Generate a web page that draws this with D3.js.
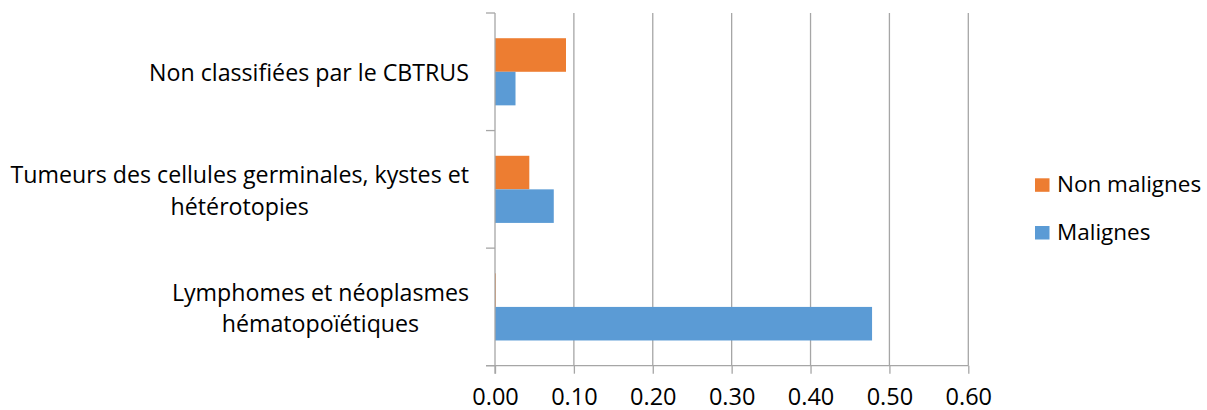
<!DOCTYPE html>
<html>
<head>
<meta charset="utf-8">
<script src="https://cdn.jsdelivr.net/npm/d3@7"></script>
<style>
  html, body { margin: 0; padding: 0; background: #ffffff; }
  svg { display: block; }
  text { font-family: "Open Sans", "Noto Sans", sans-serif; fill: #000; }
</style>
</head>
<body>
<svg id="chart" width="1207" height="410"></svg>
<script>
// ---- data ----
const categories = [
  ["Non classifiées par le CBTRUS"],
  ["Tumeurs des cellules germinales, kystes et", "hétérotopies"],
  ["Lymphomes et néoplasmes", "hématopoïétiques"]
];
const categoryKeys = ["Non classifiées", "Tumeurs", "Lymphomes"];
const seriesNames = ["Non malignes", "Malignes"];
const seriesColors = ["#ED7D31", "#5B9BD5"];
const nonMalignes = [0.090, 0.0435, 0.001];
const malignes = [0.026, 0.0745, 0.478];
const xTicks = [0, 0.1, 0.2, 0.3, 0.4, 0.5, 0.6];
const xTickLabels = ["0.00", "0.10", "0.20", "0.30", "0.40", "0.50", "0.60"];

(function () {
// ---- layout ----
const svg = d3.select("#chart");
const pLeft = 495, pRight = 968.3, pTop = 13, pBottom = 365.7;
const gridColor = "#a6a6a6";

const x = d3.scaleLinear().domain([0, 0.6]).range([pLeft, pRight]);
const y0 = d3.scaleBand().domain(categoryKeys).range([pTop, pBottom]).padding(0);
const step = y0.bandwidth();
const gap = step * 0.2145;
const y1 = d3.scaleBand().domain(seriesNames).range([gap, step - gap]).padding(0);

// gridlines
svg.append("g").selectAll("line")
  .data(xTicks.filter(d => d > 0))
  .join("line")
  .attr("x1", d => x(d)).attr("x2", d => x(d))
  .attr("y1", pTop).attr("y2", pBottom)
  .attr("stroke", gridColor).attr("stroke-width", 1.3);

// bars
const seriesValues = [nonMalignes, malignes];
const barsG = svg.append("g");
seriesNames.forEach((s, si) => {
  barsG.append("g").selectAll("rect")
    .data(categoryKeys.map((c, i) => ({ c, v: seriesValues[si][i] })))
    .join("rect")
    .attr("x", x(0))
    .attr("y", d => y0(d.c) + y1(s))
    .attr("width", d => x(d.v) - x(0))
    .attr("height", y1.bandwidth())
    .attr("fill", seriesColors[si]);
});

// bottom axis
const xAxis = d3.axisBottom(x).tickValues(xTicks)
  .tickFormat((d, i) => xTickLabels[i]).tickSize(8).tickSizeOuter(0).tickPadding(15);
const gx = svg.append("g").attr("transform", `translate(0,${pBottom})`).call(xAxis);
gx.select(".domain").remove();
gx.selectAll(".tick line").attr("stroke", gridColor).attr("stroke-width", 1.3);
gx.selectAll(".tick text").attr("font-size", 23.5)
  .attr("font-family", "'Open Sans', sans-serif").attr("fill", "#000");
svg.append("line").attr("x1", pLeft - 9).attr("x2", pRight)
  .attr("y1", pBottom).attr("y2", pBottom)
  .attr("stroke", gridColor).attr("stroke-width", 1.3);

// left axis
svg.append("line").attr("x1", pLeft).attr("x2", pLeft)
  .attr("y1", pTop).attr("y2", pBottom + 8)
  .attr("stroke", gridColor).attr("stroke-width", 1.3);
const boundaries = categoryKeys.map(c => y0(c)).concat([pBottom]);
svg.append("g").selectAll("line").data(boundaries).join("line")
  .attr("x1", pLeft - 9).attr("x2", pLeft)
  .attr("y1", d => d).attr("y2", d => d)
  .attr("stroke", gridColor).attr("stroke-width", 1.3);

// category labels: lines centred, block right-aligned near the axis
const labelRight = 469;
const lineH = 31.5;
categories.forEach((lines, i) => {
  const cy = y0(categoryKeys[i]) + step / 2;
  const t = svg.append("text")
    .attr("text-anchor", "middle")
    .attr("font-size", 23.2);
  const spans = lines.map((ln, j) => t.append("tspan")
      .attr("y", cy + 9.5 + (j - (lines.length - 1) / 2) * lineH)
      .text(ln));
  const maxW = d3.max(spans, s => s.node().getComputedTextLength());
  spans.forEach(s => s.attr("x", labelRight - maxW / 2));
});

// legend
const legend = svg.append("g");
seriesNames.forEach((s, i) => {
  const ly = 178.3 + i * 47.7;
  legend.append("rect").attr("x", 1035).attr("y", ly).attr("width", 14.5).attr("height", 13.5)
    .attr("fill", seriesColors[i]);
  legend.append("text").attr("x", 1057).attr("y", ly + 14)
    .attr("font-size", 22.5).text(s);
});
})();
</script>
</body>
</html>
